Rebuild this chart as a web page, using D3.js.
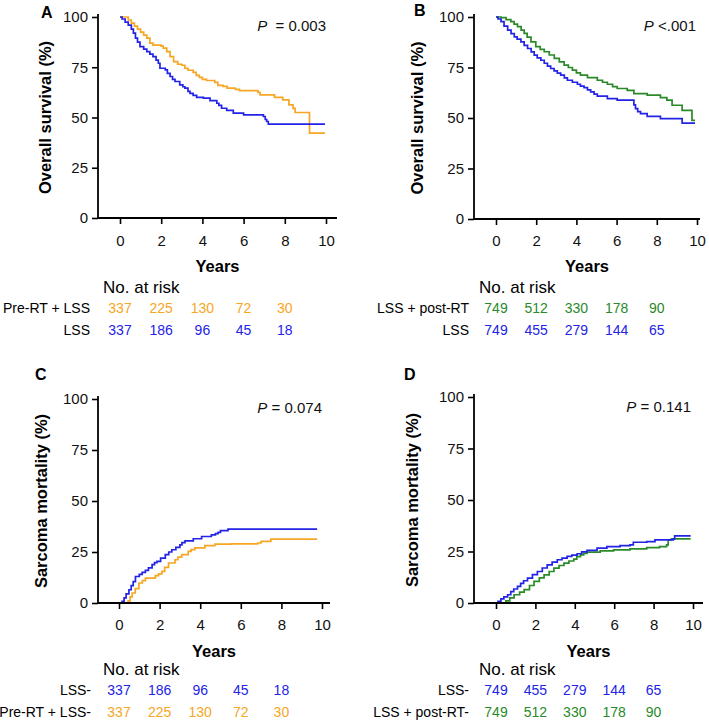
<!DOCTYPE html>
<html>
<head>
<meta charset="utf-8">
<script src="https://cdn.jsdelivr.net/npm/d3@7"></script>
<style>
  html, body { margin: 0; padding: 0; background: #fff; }
  svg { display: block; font-family: "Liberation Sans", Arial, Helvetica, sans-serif; }
</style>
</head>
<body>
<svg id="chart" width="709" height="720"></svg>
<script>
// ---------------- DATA ----------------
const xTicks = [0, 2, 4, 6, 8, 10];
const yTicks = [0, 25, 50, 75, 100];
const riskTimes = [0, 2, 4, 6, 8];

// Panel A: overall survival (%)
const osA_preRT = [[0,100],[0.4,98.5],[0.55,97],[0.7,95.5],[0.85,94],[1.0,92.5],[1.15,91],[1.3,89.5],[1.45,87],[1.6,86],[2.0,85.5],[2.1,84.5],[2.27,82.8],[2.43,80.3],[2.6,77.8],[2.8,76.5],[3.0,76],[3.15,74.5],[3.3,73.5],[3.55,72.5],[3.7,71],[3.85,70],[4.0,69],[4.2,68.4],[4.6,67.5],[4.75,66],[5.0,65.5],[5.2,64.6],[5.6,64],[5.8,63.4],[6.7,62.5],[6.8,61.3],[7.5,60],[7.9,58.8],[8.2,56.3],[8.4,54.5],[8.5,52.5],[9.2,42.2],[9.95,42.2]];
const osA_lss = [[0,100],[0.1,99],[0.25,97.5],[0.4,96],[0.55,94],[0.65,92],[0.75,89.5],[0.85,87.5],[0.97,85.3],[1.15,84],[1.3,82.8],[1.45,81.5],[1.6,80.3],[1.75,78.5],[1.86,77],[1.94,74.5],[2.2,73.7],[2.3,72],[2.43,70.4],[2.55,69],[2.67,67.9],[2.9,66.2],[3.05,65.3],[3.15,64.6],[3.3,63],[3.4,62],[3.55,61],[3.72,60],[4.05,59.6],[4.37,58.4],[4.7,57.1],[4.8,56],[4.93,54.6],[5.18,53.5],[5.5,52.2],[6.0,51.3],[6.96,50.5],[7.05,49],[7.12,48],[7.2,46.7],[9.95,46.7]];

// Panel B: overall survival (%)
const osB_postRT = [[0,100],[0.25,99.7],[0.5,98.7],[0.74,97.7],[0.9,96.5],[1.07,95.2],[1.25,93.5],[1.4,91.9],[1.55,90],[1.74,87.7],[1.98,85.3],[2.2,84],[2.4,82.8],[2.65,81.2],[2.9,79.5],[3.15,77.8],[3.39,76.2],[3.6,75],[3.8,73.7],[4.0,72.3],[4.2,71.2],[4.55,70],[5.04,68.7],[5.3,67.7],[5.54,66.7],[5.8,65.5],[6.03,64.6],[6.53,63.7],[6.86,62.1],[7.52,61.3],[8.18,60.1],[8.5,58.8],[8.76,56.3],[9.26,53.8],[9.75,48.8],[9.9,48.8]];
const osB_lss = [[0,100],[0.1,99],[0.25,97.7],[0.4,95.5],[0.58,93.5],[0.75,91.8],[0.91,90.2],[1.05,89],[1.24,87.7],[1.4,86],[1.57,84.4],[1.75,82.7],[1.9,81.1],[2.05,79.8],[2.23,78.6],[2.4,77.1],[2.56,75.7],[2.72,74.5],[2.89,73.3],[3.05,72.2],[3.22,71.2],[3.4,69.9],[3.55,68.7],[3.8,67.7],[4.05,66.7],[4.2,65.8],[4.38,65],[4.55,63.9],[4.71,62.9],[4.88,61.8],[5.04,60.8],[5.54,59.6],[6.03,58.8],[6.78,58.8],[6.86,56.5],[6.94,54.6],[7.05,53.2],[7.19,52.2],[7.52,50.8],[8.18,49.7],[9.26,47.5],[9.9,47.5]];

// Panel C: sarcoma mortality (%)
const smC_lss = [[0,0],[0.15,0.8],[0.25,2.5],[0.35,4.5],[0.49,6.5],[0.6,8.5],[0.7,10.5],[0.81,13],[1.0,14],[1.14,15],[1.3,16],[1.45,17.2],[1.63,18.8],[1.75,19.8],[1.87,20.4],[2.05,22],[2.28,23.7],[2.45,25],[2.6,26.1],[2.8,27.3],[3.0,28.5],[3.1,29.6],[3.25,30.5],[3.66,31.5],[4.07,32.6],[4.55,33.4],[4.75,34],[4.88,34.6],[5.0,35.5],[5.37,36.2],[9.76,36.2]];
const smC_preRT = [[0,0],[0.45,1],[0.55,3],[0.65,4.9],[0.8,7],[0.98,9.8],[1.15,11],[1.3,12.2],[1.79,13.4],[1.95,14.3],[2.11,15.5],[2.25,17.5],[2.44,19.6],[2.76,21.2],[2.9,22.5],[3.09,23.7],[3.41,25.3],[3.55,26.2],[3.74,27],[4.23,28.1],[4.72,28.9],[5.53,29],[6.83,29.4],[7.0,30.2],[7.48,31.3],[9.76,31.3]];

// Panel D: sarcoma mortality (%)
const smD_lss = [[0,0],[0.1,0.8],[0.25,2],[0.4,3],[0.59,4],[0.75,5.5],[0.9,6.8],[1.09,8.1],[1.25,9.5],[1.4,10.8],[1.6,12.1],[1.85,13.8],[2.1,15.3],[2.35,17],[2.6,18.5],[2.85,19.8],[3.11,21],[3.35,21.8],[3.61,22.6],[3.85,23.2],[4.12,23.9],[4.35,24.8],[4.62,25.5],[5.13,26.6],[5.63,27.4],[6.3,27.9],[6.8,28.2],[6.97,29.5],[7.65,29.8],[8.07,30.6],[9.0,31.1],[9.07,32.6],[9.88,32.6]];
const smD_postRT = [[0,0],[0.5,1],[0.7,2.5],[0.92,4],[1.2,5.3],[1.43,6.5],[1.7,8.5],[1.93,10.5],[2.2,12.2],[2.44,13.7],[2.7,15.3],[2.94,16.9],[3.2,18.2],[3.45,19.4],[3.7,20.4],[3.95,21.3],[4.1,22.5],[4.29,23.4],[4.45,24.1],[4.62,24.7],[5.29,25.3],[5.97,25.8],[6.8,26.3],[7.65,26.9],[8.3,27.4],[8.66,28.2],[8.74,30.6],[8.9,31.1],[9.88,31.1]];

// Numbers at risk
const riskA_preRT = [337, 225, 130, 72, 30];
const riskA_lss   = [337, 186, 96, 45, 18];
const riskB_postRT = [749, 512, 330, 178, 90];
const riskB_lss    = [749, 455, 279, 144, 65];
const riskC_lss   = [337, 186, 96, 45, 18];
const riskC_preRT = [337, 225, 130, 72, 30];
const riskD_lss    = [749, 455, 279, 144, 65];
const riskD_postRT = [749, 512, 330, 178, 90];

// ---------------- STYLE ----------------
const ORANGE = "#f6a623";
const BLUE = "#2323e6";
const GREEN = "#2a8a2a";

const svg = d3.select("#chart");

const panels = [
  { letter: "A", lx: 41, ly: 18, ax: 98, x0: 120, x10: 326, xEnd: 337, yTop: 17, yBot: 218,
    ytitle: "Overall survival (%)", ytx: 51, pText: [["P", true], ["  = 0.003", false]], pX: 326, pY: 31,
    series: [[osA_preRT, ORANGE], [osA_lss, BLUE]],
    labelX: 90, riskX: 103, rows: [["Pre-RT + LSS", riskA_preRT, ORANGE], ["LSS", riskA_lss, BLUE]],
    tickBase: 246, yearsBase: 272, nrBase: 293, row1: 313, row2: 335 },
  { letter: "B", lx: 414, ly: 16, ax: 474, x0: 496, x10: 697, xEnd: 700, yTop: 17, yBot: 219,
    ytitle: "Overall survival (%)", ytx: 423, pText: [["P", true], [" <.001", false]], pX: 696, pY: 31,
    series: [[osB_postRT, GREEN], [osB_lss, BLUE]],
    labelX: 469, riskX: 479, rows: [["LSS + post-RT", riskB_postRT, GREEN], ["LSS", riskB_lss, BLUE]],
    tickBase: 246, yearsBase: 272, nrBase: 293, row1: 313, row2: 335 },
  { letter: "C", lx: 35, ly: 380, ax: 98, x0: 119, x10: 322, xEnd: 330, yTop: 399, yBot: 603,
    ytitle: "Sarcoma mortality (%)", ytx: 47, pText: [["P", true], [" = 0.074", false]], pX: 322, pY: 413,
    series: [[smC_preRT, ORANGE], [smC_lss, BLUE]],
    labelX: 91, riskX: 103, rows: [["LSS-", riskC_lss, BLUE], ["Pre-RT + LSS-", riskC_preRT, ORANGE]],
    tickBase: 630, yearsBase: 657, nrBase: 675, row1: 695, row2: 717 },
  { letter: "D", lx: 404, ly: 380, ax: 474, x0: 496, x10: 693, xEnd: 703, yTop: 397, yBot: 603,
    ytitle: "Sarcoma mortality (%)", ytx: 418, pText: [["P", true], [" = 0.141", false]], pX: 691, pY: 412,
    series: [[smD_postRT, GREEN], [smD_lss, BLUE]],
    labelX: 469, riskX: 479, rows: [["LSS-", riskD_lss, BLUE], ["LSS + post-RT-", riskD_postRT, GREEN]],
    tickBase: 630, yearsBase: 657, nrBase: 675, row1: 695, row2: 717 }
];

panels.forEach(p => {
  const g = svg.append("g");
  const x = d3.scaleLinear().domain([0, 10]).range([p.x0, p.x10]);
  const y = d3.scaleLinear().domain([0, 100]).range([p.yBot, p.yTop]);

  // curves
  const line = d3.line().x(d => x(d[0])).y(d => y(d[1])).curve(d3.curveStepAfter);
  p.series.forEach(([data, color]) => {
    g.append("path").datum(data)
      .attr("d", line)
      .attr("fill", "none")
      .attr("stroke", color)
      .attr("stroke-width", 1.7)
      .attr("stroke-linejoin", "miter");
  });

  // y axis
  const yAxis = d3.axisLeft(y).tickValues(yTicks).tickSize(6).tickPadding(4).tickSizeOuter(0);
  const gy = g.append("g").attr("transform", `translate(${p.ax},0)`).call(yAxis);
  gy.select(".domain").remove();
  gy.selectAll(".tick line").attr("stroke", "#000").attr("stroke-width", 1.6);
  gy.selectAll(".tick text").attr("font-size", 15).attr("fill", "#111")
    .attr("font-family", "Liberation Sans, Arial, sans-serif");
  g.append("line").attr("x1", p.ax).attr("x2", p.ax).attr("y1", p.yTop - 3).attr("y2", p.yBot + 0.8)
    .attr("stroke", "#000").attr("stroke-width", 1.8);

  // x axis
  const xAxis = d3.axisBottom(x).tickValues(xTicks).tickSize(6).tickPadding(10).tickSizeOuter(0);
  const gx = g.append("g").attr("transform", `translate(0,${p.yBot})`).call(xAxis);
  gx.select(".domain").remove();
  gx.selectAll(".tick line").attr("stroke", "#000").attr("stroke-width", 1.6);
  gx.selectAll(".tick text").attr("font-size", 15).attr("fill", "#111")
    .attr("font-family", "Liberation Sans, Arial, sans-serif")
    .attr("dy", null).attr("y", p.tickBase - p.yBot);
  g.append("line").attr("x1", p.ax).attr("x2", p.xEnd).attr("y1", p.yBot).attr("y2", p.yBot)
    .attr("stroke", "#000").attr("stroke-width", 1.8);

  // panel letter
  g.append("text").attr("x", p.lx).attr("y", p.ly).text(p.letter)
    .attr("font-size", 16).attr("font-weight", "bold").attr("fill", "#000");

  // y title
  const ymid = (p.yTop + p.yBot) / 2;
  g.append("text").attr("transform", `translate(${p.ytx},${ymid}) rotate(-90)`)
    .attr("text-anchor", "middle").attr("font-size", 16.5).attr("font-weight", "bold")
    .attr("fill", "#000").text(p.ytitle);

  // p value
  const pt = g.append("text").attr("x", p.pX).attr("y", p.pY).attr("text-anchor", "end")
    .attr("font-size", 15).attr("fill", "#111").attr("xml:space", "preserve");
  p.pText.forEach(([s, it]) => {
    pt.append("tspan").text(s).attr("font-style", it ? "italic" : "normal");
  });

  // Years
  g.append("text").attr("x", (p.ax + p.xEnd) / 2).attr("y", p.yearsBase)
    .attr("text-anchor", "middle").attr("font-size", 16.5).attr("font-weight", "bold")
    .attr("fill", "#000").text("Years");

  // No. at risk
  g.append("text").attr("x", p.riskX).attr("y", p.nrBase)
    .attr("font-size", 17).attr("fill", "#000").text("No. at risk");

  // risk rows
  [p.row1, p.row2].forEach((base, i) => {
    const [label, vals, color] = p.rows[i];
    g.append("text").attr("x", p.labelX).attr("y", base).attr("text-anchor", "end")
      .attr("font-size", 14).attr("fill", "#000").text(label);
    g.selectAll(null).data(vals).enter().append("text")
      .attr("x", (d, j) => x(riskTimes[j])).attr("y", base)
      .attr("text-anchor", "middle").attr("font-size", 14).attr("fill", color)
      .text(d => d);
  });
});
</script>
</body>
</html>
